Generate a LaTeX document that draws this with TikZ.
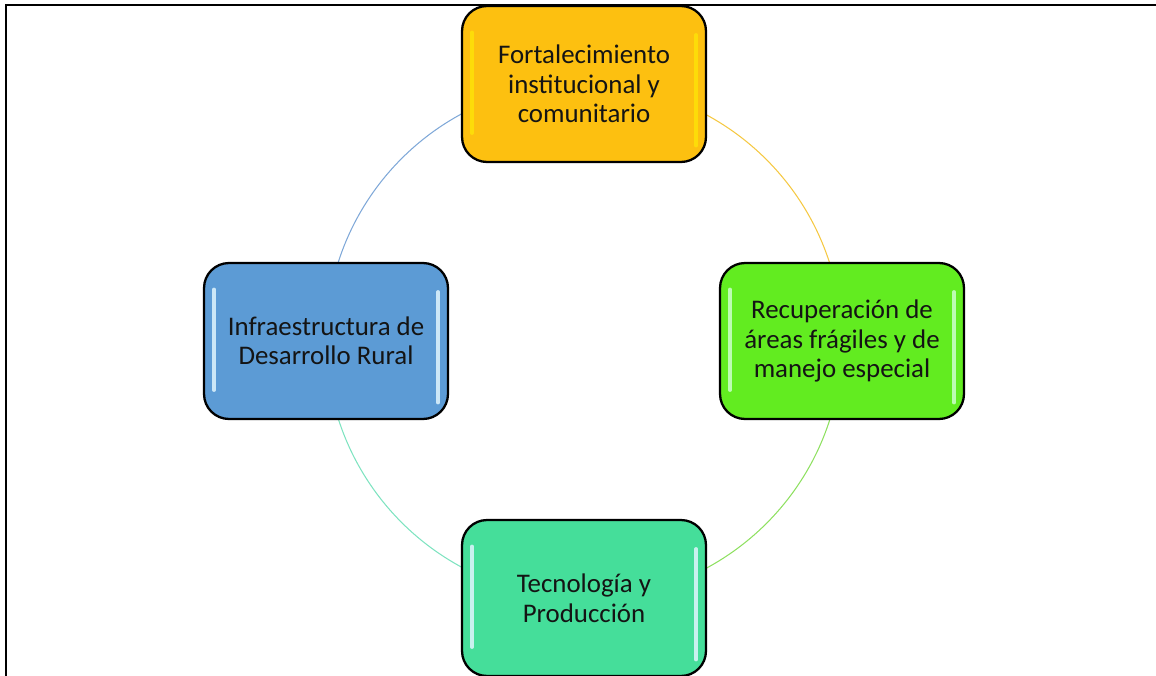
\documentclass[tikz,border=0pt]{standalone}
\usepackage{fontspec}
\setmainfont{Carlito}
\definecolor{cyellow}{HTML}{FDC010}
\definecolor{cgreen}{HTML}{62EC20}
\definecolor{cblue}{HTML}{5C9BD5}
\definecolor{cteal}{HTML}{45DE9A}
\definecolor{ayellow}{HTML}{F5C842}
\definecolor{agreen}{HTML}{8EE060}
\definecolor{ablue}{HTML}{7FA8D8}
\definecolor{ateal}{HTML}{7EE3C0}
\tikzset{
  box/.style={draw=black, line width=1.3pt, rounded corners=0.5cm,
    minimum width=4.88cm, minimum height=3.12cm, align=center,
    font=\fontsize{15.3}{16.8}\selectfont, text=black!92},
  link/.style={line width=0.6pt},
  gloss/.style={line width=2pt, line cap=round},
}
\begin{document}
\begin{tikzpicture}[x=0.02cm,y=-0.02cm]
\useasboundingbox (0,0) rectangle (1156,676);
\clip (0,0) rectangle (1156,676);
% frame
\draw[line width=1.2pt] (6,690) -- (6,5) -- (1170,5);
% centres of the boxes on the cycle
\coordinate (ctop) at (584,84);
\coordinate (cright) at (842,341);
\coordinate (cleft) at (326,341);
\coordinate (cbottom) at (584,598);
% arcs of the cycle
\draw[link, ablue] (cleft) arc[start angle=180, end angle=90, radius=5.16cm];
\draw[link, ayellow] (ctop) arc[start angle=90, end angle=0, radius=5.16cm];
\draw[link, agreen] (cright) arc[start angle=0, end angle=-90, radius=5.16cm];
\draw[link, ateal] (cbottom) arc[start angle=-90, end angle=-180, radius=5.16cm];
% boxes
\node[box, fill=cyellow] (top) at (ctop) {Fortalecimiento\\institucional y\\comunitario};
\node[box, fill=cgreen] (right) at (cright) {Recuperación de\\áreas frágiles y de\\manejo especial};
\node[box, fill=cblue] (left) at (cleft) {Infraestructura de\\Desarrollo Rural};
\node[box, fill=cteal] (bottom) at (cbottom) {Tecnología y\\Producción};
% gloss highlights
\foreach \n/\c in {top/yellow!70!cyellow, right/green!20!white, left/cyan!12!white, bottom/cyan!12!white}{
  \draw[gloss, \c, opacity=0.85] ([xshift=0.22cm,yshift=-0.55cm]\n.north west) -- ([xshift=0.22cm,yshift=0.6cm]\n.south west);
  \draw[gloss, \c, opacity=0.85] ([xshift=-0.22cm,yshift=-0.6cm]\n.north east) -- ([xshift=-0.22cm,yshift=0.35cm]\n.south east);
}
\end{tikzpicture}
\end{document}
